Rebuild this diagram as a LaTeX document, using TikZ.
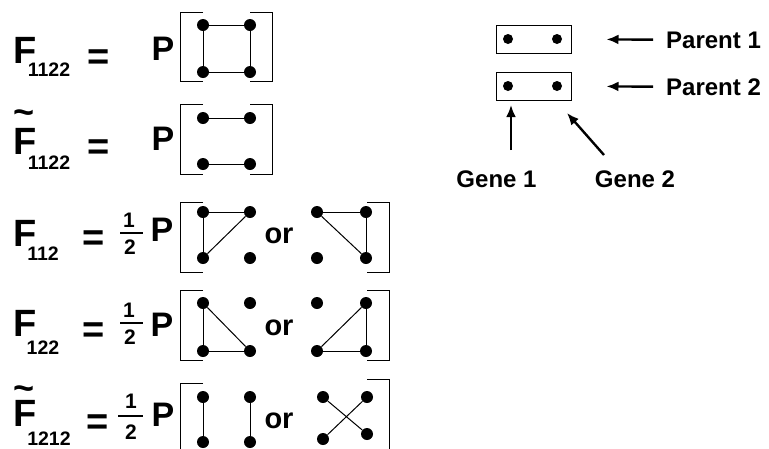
\documentclass[tikz,border=0pt]{standalone}
\usepackage{fontspec}
\setmainfont{Liberation Sans}
\usetikzlibrary{arrows.meta}
\usetikzlibrary{positioning}

\begin{document}
\begin{tikzpicture}[x=1pt, y=-1pt,
    dot/.style={circle, fill=black, inner sep=0pt, minimum size=12pt},
    link/.style={line width=1pt},
    brak/.style={line width=1pt},
    bigF/.style={font=\fontsize{38}{40}\selectfont\bfseries, inner sep=0pt, anchor=north},
    subs/.style={font=\fontsize{19.5}{21}\selectfont\bfseries, inner sep=0pt, anchor=north},
    eqs/.style={font=\fontsize{38}{40}\selectfont\bfseries, inner sep=0pt, anchor=north},
    pee/.style={font=\fontsize{34}{36}\selectfont\bfseries, inner sep=0pt, anchor=north},
    num/.style={font=\fontsize{21}{23}\selectfont\bfseries, inner sep=0pt, anchor=north},
    orw/.style={font=\fontsize{29}{31}\selectfont\bfseries, inner sep=0pt, anchor=north},
    tld/.style={font=\fontsize{36}{38}\selectfont\bfseries, inner sep=0pt, anchor=north},
    lbl/.style={font=\fontsize{24}{26}\selectfont\bfseries, inner sep=0pt},
    genebox/.style={draw, line width=1pt, minimum width=75pt, minimum height=28pt, inner sep=0pt},
    bar/.style={line width=2pt},
    arr/.style={-{Latex[length=12pt,width=10pt]}, line width=2.4pt}
  ]
  \useasboundingbox (0,0) rectangle (769,448);

  % left hand sides
  \node[bigF] (f1) at (25,37) {F};
  \node[subs] (s1) at (49,63) {1122};
  \node[eqs] (e1) at (99,50) {=};
  \node[pee] (p1) at (163,37) {P};

  \node[tld] (w2) at (24,110) {\textasciitilde};
  \node[bigF] (f2) at (25,128) {F};
  \node[subs] (s2) at (49,156) {1122};
  \node[eqs] (e2) at (99,140) {=};
  \node[pee] (p2) at (163,127) {P};

  \node[bigF] (f3) at (25,220) {F};
  \node[subs] (s3) at (43,247) {112};
  \node[eqs] (e3) at (94,231) {=};
  \node[num] (n3) at (129,213) {1};
  \node[num] (d3) at (130,240) {2};
  \draw[bar] (120,233) -- (143,233);
  \node[pee] (p3) at (162,218) {P};
  \node[orw] (o3) at (279,228) {or};

  \node[bigF] (f4) at (25,310) {F};
  \node[subs] (s4) at (43,341) {122};
  \node[eqs] (e4) at (94,323) {=};
  \node[num] (n4) at (129,303) {1};
  \node[num] (d4) at (130,330) {2};
  \draw[bar] (120,323) -- (143,323);
  \node[pee] (p4) at (162,313) {P};
  \node[orw] (o4) at (279,320) {or};

  \node[tld] (w5) at (24,386) {\textasciitilde};
  \node[bigF] (f5) at (25,400) {F};
  \node[subs] (s5) at (49,432) {1212};
  \node[eqs] (e5) at (98,415) {=};
  \node[num] (n5) at (131,394) {1};
  \node[num] (d5) at (131,425) {2};
  \draw[bar] (118,416) -- (143,416);
  \node[pee] (p5) at (163,403) {P};
  \node[orw] (o5) at (279,413) {or};

  % brackets
  \draw[brak] (203,12) -| (180,81) -- (203,81);
  \draw[brak] (250,12) -| (272,81) -- (250,81);
  \draw[brak] (203,104) -| (180,174) -- (203,174);
  \draw[brak] (250,104) -| (272,174) -- (250,174);
  \draw[brak] (203,202) -| (180,272) -- (203,272);
  \draw[brak] (367,202) -| (389,272) -- (367,272);
  \draw[brak] (203,290) -| (180,360) -- (203,360);
  \draw[brak] (367,290) -| (389,360) -- (367,360);
  \draw[brak] (203,383) -| (180,460);
  \draw[brak] (367,379) -| (389,460);

  % gene dots
  \foreach \r/\t/\b in {1/25/72, 2/118/164, 3/212/258, 4/303/351, 5/397/442}{
    \node[dot] (tl\r) at (203,\t) {};
    \node[dot] (tr\r) at (250,\t) {};
    \node[dot] (bl\r) at (203,\b) {};
    \node[dot] (br\r) at (250,\b) {};
  }
  \foreach \r/\t/\b in {3/212/258, 4/303/351}{
    \node[dot] (xtl\r) at (317,\t) {};
    \node[dot] (xtr\r) at (366,\t) {};
    \node[dot] (xbl\r) at (317,\b) {};
    \node[dot] (xbr\r) at (366,\b) {};
  }
  \node[dot] (xtl5) at (323,397) {};
  \node[dot] (xtr5) at (367,397) {};
  \node[dot] (xbl5) at (323,439) {};
  \node[dot] (xbr5) at (367,434) {};

  % identity links
  \draw[link] (tl1) -- (tr1);
  \draw[link] (tr1) -- (br1);
  \draw[link] (br1) -- (bl1);
  \draw[link] (bl1) -- (tl1);
  \draw[link] (tl2) -- (tr2);
  \draw[link] (bl2) -- (br2);
  \draw[link] (tl3) -- (tr3);
  \draw[link] (tl3) -- (bl3);
  \draw[link] (bl3) -- (tr3);
  \draw[link] (xtl3) -- (xtr3);
  \draw[link] (xtr3) -- (xbr3);
  \draw[link] (xtl3) -- (xbr3);
  \draw[link] (tl4) -- (bl4);
  \draw[link] (bl4) -- (br4);
  \draw[link] (tl4) -- (br4);
  \draw[link] (xbl4) -- (xbr4);
  \draw[link] (xtr4) -- (xbr4);
  \draw[link] (xbl4) -- (xtr4);
  \draw[link] (tl5) -- (bl5);
  \draw[link] (tr5) -- (br5);
  \draw[link] (xtl5) -- (xbr5);
  \draw[link] (xtr5) -- (xbl5);

  % key
  \node[genebox] (box1) at (533.5,39) {};
  \node[genebox] (box2) at (533.5,86) {};
  \node[dot, minimum size=10pt] (g11) at (508,39) {};
  \node[dot, minimum size=10pt] (g12) at (557,39) {};
  \node[dot, minimum size=10pt] (g21) at (508,86) {};
  \node[dot, minimum size=10pt] (g22) at (557,86) {};

  \node[lbl, anchor=west] (par1) at (666,40) {Parent 1};
  \node[lbl, anchor=west] (par2) at (666,87) {Parent 2};
  \node[lbl, anchor=base] (gen1) at (496.5,187) {Gene 1};
  \node[lbl, anchor=base] (gen2) at (635,187) {Gene 2};

  \draw[arr, shorten <=13pt, shorten >=35pt] (par1) -- (box1);
  \draw[arr, shorten <=13pt, shorten >=35pt] (par2) -- (box2);
  \coordinate (gt1) at (511,150);
  \coordinate (gh1) at (511,105);
  \coordinate (gt2) at (604,155);
  \coordinate (gh2) at (567,113);
  \draw[arr] (gt1) -- (gh1);
  \draw[arr] (gt2) -- (gh2);
\end{tikzpicture}
\end{document}
